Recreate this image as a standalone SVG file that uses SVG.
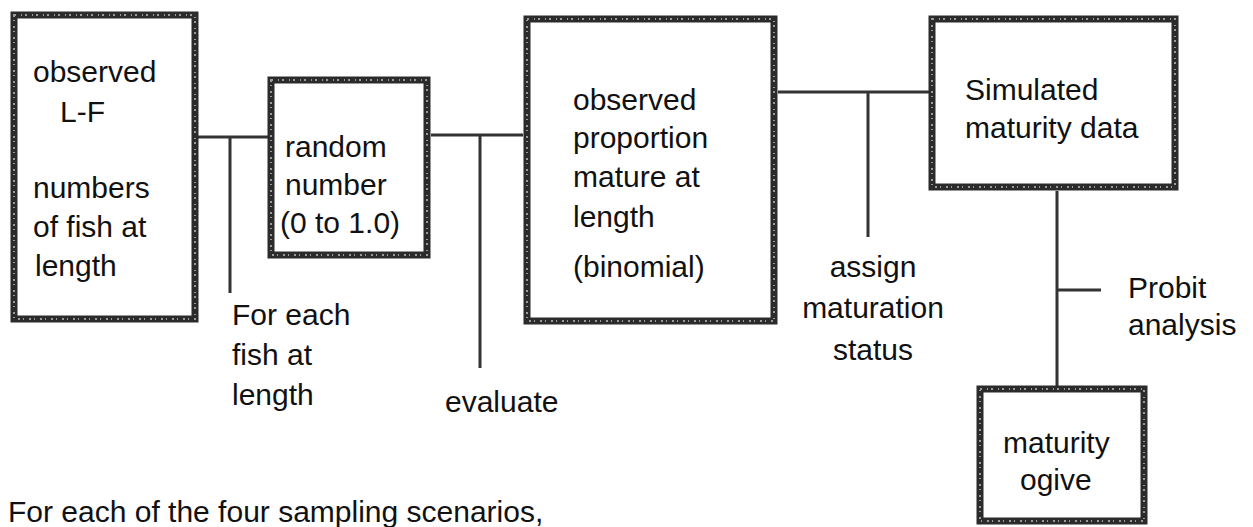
<svg xmlns="http://www.w3.org/2000/svg" width="1253" height="527" viewBox="0 0 1253 527">
<style>
.box{fill:#fff;stroke:#2b2b2b;stroke-width:7}
.tex{fill:none;stroke:#9a9a9a;stroke-width:2;stroke-dasharray:2 5 1 3}
.ln{fill:none;stroke:#333;stroke-width:3}
text{font-family:"Liberation Sans",Arial,sans-serif;font-size:30px;fill:#111}
</style>
<rect width="1253" height="527" fill="#fff"/>
<g id="connectors">
<path class="ln" d="M198 137H268M230 137V293"/>
<path class="ln" d="M431 135H523M480 135V368"/>
<path class="ln" d="M778 92H929M868 92V237"/>
<path class="ln" d="M1057 191V386M1057 290H1101"/>
</g>
<g id="n1">
<rect class="box" x="14" y="15" width="181" height="304"/>
<rect class="tex" x="14" y="15" width="181" height="304"/>
<text x="33" y="82">observed</text>
<text x="60" y="122">L-F</text>
<text x="33" y="198">numbers</text>
<text x="33" y="237">of fish at</text>
<text x="35" y="276">length</text>
</g>
<g id="n2">
<rect class="box" x="271" y="80" width="156" height="175"/>
<rect class="tex" x="271" y="80" width="156" height="175"/>
<text x="285" y="157">random</text>
<text x="285" y="195">number</text>
<text x="280" y="233">(0 to 1.0)</text>
</g>
<g id="n3">
<rect class="box" x="527" y="19" width="247" height="302"/>
<rect class="tex" x="527" y="19" width="247" height="302"/>
<text x="573" y="110">observed</text>
<text x="573" y="148">proportion</text>
<text x="573" y="187">mature at</text>
<text x="573" y="227">length</text>
<text x="573" y="277">(binomial)</text>
</g>
<g id="n4">
<rect class="box" x="932" y="19" width="243" height="168"/>
<rect class="tex" x="932" y="19" width="243" height="168"/>
<text x="965" y="100">Simulated</text>
<text x="965" y="138">maturity data</text>
</g>
<g id="n5">
<rect class="box" x="980" y="389" width="164" height="132"/>
<rect class="tex" x="980" y="389" width="164" height="132"/>
<text x="1003" y="453">maturity</text>
<text x="1020" y="490">ogive</text>
</g>
<g id="labels">
<text x="232" y="325">For each</text>
<text x="232" y="365">fish at</text>
<text x="232" y="405">length</text>
<text x="445" y="412">evaluate</text>
<text x="873" y="277" text-anchor="middle">assign</text>
<text x="873" y="318" text-anchor="middle">maturation</text>
<text x="873" y="360" text-anchor="middle">status</text>
<text x="1128" y="298">Probit</text>
<text x="1128" y="335">analysis</text>
<text x="8" y="522">For each of the four sampling scenarios,</text>
</g>
</svg>
